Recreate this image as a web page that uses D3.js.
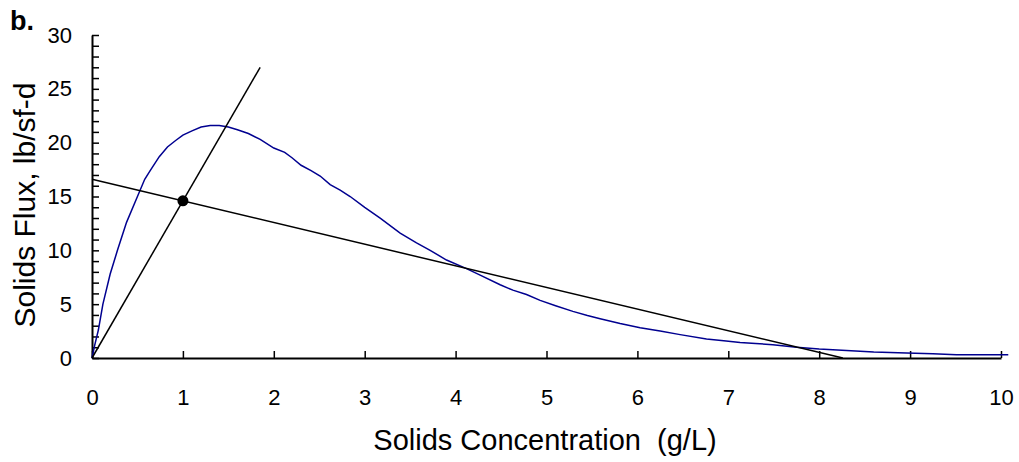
<!DOCTYPE html>
<html>
<head>
<meta charset="utf-8">
<script src="https://cdn.jsdelivr.net/npm/d3@7"></script>
<style>
  html, body { margin: 0; padding: 0; background: #fff; }
  svg { display: block; font-family: "Liberation Sans", Arial, sans-serif; }
</style>
</head>
<body>
<svg id="chart" width="1019" height="462"></svg>
<script>
// Solids flux curve (concentration g/L, flux lb/sf-d)
const fluxConc = [0, 0.03, 0.07, 0.12, 0.2, 0.28, 0.38, 0.5, 0.58, 0.64, 0.74, 0.83, 0.92, 1.0, 1.1, 1.2, 1.3, 1.4, 1.5, 1.6, 1.72, 1.85, 2.0, 2.12, 2.2, 2.3, 2.41, 2.51, 2.62, 2.73, 2.84, 3.0, 3.17, 3.28, 3.39, 3.57, 3.72, 3.9, 4.12, 4.27, 4.49, 4.63, 4.78, 4.93, 5.1, 5.29, 5.45, 5.59, 5.81, 6.03, 6.25, 6.47, 6.76, 6.95, 7.13, 7.3, 7.49, 7.75, 8.0, 8.3, 8.6, 8.96, 9.25, 9.51, 10.08];
const fluxValue = [0, 1.2, 2.6, 5.0, 7.8, 10.0, 12.6, 15.0, 16.6, 17.4, 18.7, 19.6, 20.2, 20.7, 21.1, 21.45, 21.6, 21.6, 21.45, 21.2, 20.85, 20.3, 19.5, 19.1, 18.6, 17.9, 17.4, 16.9, 16.1, 15.6, 15.0, 14.0, 13.0, 12.3, 11.6, 10.7, 10.0, 9.1, 8.3, 7.7, 6.8, 6.3, 5.9, 5.35, 4.85, 4.33, 3.95, 3.65, 3.2, 2.8, 2.5, 2.17, 1.76, 1.6, 1.45, 1.35, 1.23, 1.0, 0.83, 0.7, 0.55, 0.46, 0.4, 0.3, 0.3];

// Overflow rate line (through origin) and underflow rate line
const overflowConc = [0, 1.85];
const overflowFlux = [0, 27.0];
const underflowConc = [0, 8.26];
const underflowFlux = [16.6, 0];

// Operating point
const stateConc = [1.0];
const stateFlux = [14.6];

const xTicks = [0, 1, 2, 3, 4, 5, 6, 7, 8, 9, 10];
const yTicks = [0, 5, 10, 15, 20, 25, 30];
const yMinorTicks = d3.range(0, 31, 1);

const svg = d3.select("#chart");
const plotLeft = 92, plotRight = 1001, plotTop = 35, plotBottom = 358;

const x = d3.scaleLinear().domain([0, 10]).range([plotLeft, plotRight]);
const y = d3.scaleLinear().domain([0, 30]).range([plotBottom, plotTop]);

// Axes: ticks point inward
const xAxis = svg.append("g")
  .attr("transform", `translate(0,${plotBottom})`)
  .call(d3.axisBottom(x).tickValues(xTicks).tickSize(-7).tickSizeOuter(0).tickPadding(31).tickFormat(d3.format("d")));
const yAxis = svg.append("g")
  .attr("transform", `translate(${plotLeft},0)`)
  .call(d3.axisLeft(y).tickValues(yMinorTicks).tickSize(-7).tickSizeOuter(0).tickPadding(20)
    .tickFormat(d => yTicks.includes(d) ? d : ""));

[xAxis, yAxis].forEach(g => {
  g.select(".domain").attr("stroke", "#000").attr("stroke-width", 2);
  g.selectAll(".tick line").attr("stroke", "#000").attr("stroke-width", 1.5);
  g.selectAll(".tick text").attr("fill", "#000").style("font-size", "22px").style("font-family", "Liberation Sans, Arial, sans-serif");
});

// Flux curve
const fluxPts = fluxConc.map((c, i) => [c, fluxValue[i]]);
const line = d3.line().x(d => x(d[0])).y(d => y(d[1]));
svg.append("path")
  .attr("d", line(fluxPts))
  .attr("fill", "none")
  .attr("stroke", "#000090")
  .attr("stroke-width", 1.5);

// Straight lines
[[overflowConc, overflowFlux], [underflowConc, underflowFlux]].forEach(([cs, fs]) => {
  svg.append("path")
    .attr("d", line(cs.map((c, i) => [c, fs[i]])))
    .attr("fill", "none")
    .attr("stroke", "#000")
    .attr("stroke-width", 1.5);
});

// Operating point marker
svg.selectAll("circle.pt").data(stateConc).enter().append("circle")
  .attr("cx", d => x(d))
  .attr("cy", (d, i) => y(stateFlux[i]))
  .attr("r", 5.5)
  .attr("fill", "#000");

// Titles
svg.append("text")
  .attr("x", 545).attr("y", 450)
  .attr("text-anchor", "middle")
  .style("font-size", "29px")
  .attr("xml:space", "preserve")
  .text("Solids Concentration  (g/L)");

svg.append("text")
  .attr("transform", "translate(35,205) rotate(-90)")
  .attr("text-anchor", "middle")
  .style("font-size", "30px")
  .text("Solids Flux, lb/sf-d");

svg.append("text")
  .attr("x", 10).attr("y", 30)
  .style("font-size", "27px")
  .style("font-weight", "bold")
  .text("b.");
</script>
</body>
</html>
